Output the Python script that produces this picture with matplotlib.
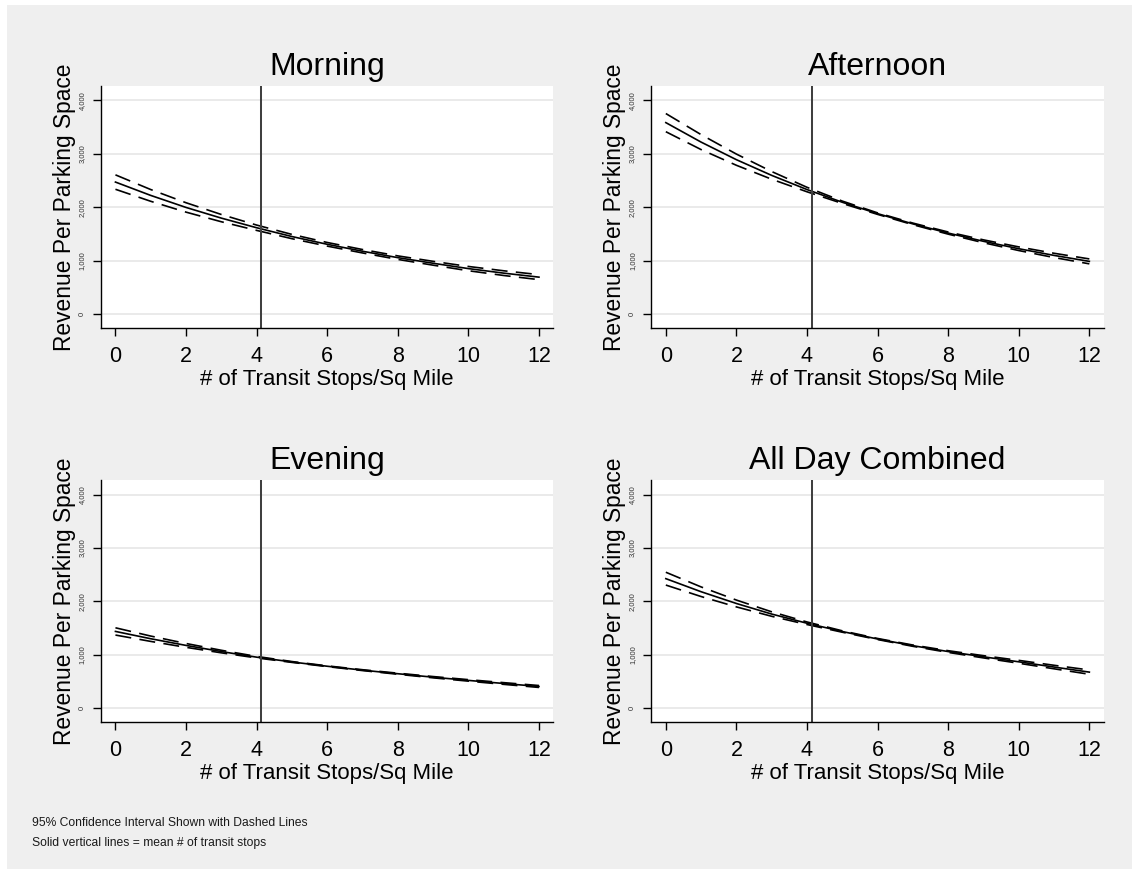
import matplotlib
matplotlib.use('Agg')
import matplotlib.pyplot as plt
from matplotlib.patches import Rectangle

plt.rcParams['font.family'] = ['Liberation Sans', 'DejaVu Sans']

# values, x = transit stops per sq mile
stops = [0, 1, 2, 3, 4, 5, 6, 7, 8, 9, 10, 11, 12]
mean_stops = 4.13

titles = ['Morning', 'Afternoon', 'Evening', 'All Day Combined']

morning_fit = [2470, 2220, 1995, 1795, 1615, 1450, 1305, 1175, 1055, 950, 850, 765, 690]
morning_hi = [2605, 2330, 2083, 1863, 1665, 1490, 1339, 1207, 1088, 986, 890, 809, 737]
morning_lo = [2335, 2110, 1907, 1727, 1565, 1410, 1271, 1143, 1022, 914, 810, 721, 643]

afternoon_fit = [3583, 3218, 2889, 2595, 2330, 2092, 1879, 1687, 1515, 1361, 1222, 1097, 985]
afternoon_hi = [3753, 3358, 2994, 2667, 2372, 2114, 1893, 1702, 1535, 1388, 1256, 1137, 1031]
afternoon_lo = [3413, 3078, 2784, 2523, 2288, 2070, 1865, 1672, 1495, 1334, 1188, 1057, 939]

evening_fit = [1437, 1300, 1175, 1060, 955, 865, 785, 712, 645, 580, 520, 462, 406]
evening_hi = [1505, 1350, 1211, 1084, 969, 873, 792, 720, 655, 592, 534, 478, 424]
evening_lo = [1369, 1250, 1139, 1036, 941, 857, 778, 704, 635, 568, 506, 446, 388]

allday_fit = [2425, 2180, 1960, 1762, 1590, 1435, 1295, 1170, 1060, 962, 868, 770, 675]
allday_hi = [2545, 2270, 2024, 1804, 1614, 1448, 1305, 1182, 1076, 983, 895, 803, 715]
allday_lo = [2305, 2090, 1896, 1720, 1566, 1422, 1285, 1158, 1044, 941, 841, 737, 635]

xtick_vals = [0, 2, 4, 6, 8, 10, 12]
ytick_vals = [0, 1000, 2000, 3000, 4000]
ytick_labels = ['0', '1,000', '2,000', '3,000', '4,000']

xlabel = '# of Transit Stops/Sq Mile'
ylabel = 'Revenue Per Parking Space'
notes = ['95% Confidence Interval Shown with Dashed Lines',
         'Solid vertical lines = mean # of transit stops']


def panel(ax, title, fit, hi, lo):
    ax.set_facecolor('white')
    ax.set_xlim(-0.41, 12.41)
    ax.set_ylim(-268, 4268)
    ax.set_yticks(ytick_vals, ytick_labels, fontsize=5.5, rotation=90,
                  va='center', color='#333333')
    ax.set_xticks(xtick_vals)
    ax.tick_params(axis='x', labelsize=15.5, length=6, width=1.0, pad=6.5)
    ax.tick_params(axis='y', length=6, width=1.0, pad=5)
    for y in ytick_vals:
        ax.axhline(y, color='#e6e6e6', lw=1.2, zorder=0)
    for s in ['top', 'right']:
        ax.spines[s].set_visible(False)
    for s in ['left', 'bottom']:
        ax.spines[s].set_linewidth(1.0)

    ax.plot(stops, hi, color='black', lw=1.2, dashes=(9.6, 5))
    ax.plot(stops, lo, color='black', lw=1.2, dashes=(9.6, 5))
    ax.plot(stops, fit, color='black', lw=1.2)
    ax.axvline(mean_stops, color='#404040', lw=1.45)

    ax.set_title(title, fontsize=23, pad=8)
    ax.set_xlabel(xlabel, fontsize=16, labelpad=1.5)
    ax.set_ylabel(ylabel, fontsize=16.4, labelpad=2)


def main():
    fig = plt.figure(figsize=(11.32, 8.69), dpi=100, facecolor='white')
    fig.patches.append(Rectangle((7 / 1132, 0), 1, 864 / 869,
                                 transform=fig.transFigure,
                                 facecolor='#efefef', edgecolor='none',
                                 zorder=-10))

    lefts = [0.0892, 0.5754, 0.0892, 0.5754]
    bottoms = [0.6222, 0.6222, 0.1686, 0.1686]
    series = [(morning_fit, morning_hi, morning_lo),
              (afternoon_fit, afternoon_hi, afternoon_lo),
              (evening_fit, evening_hi, evening_lo),
              (allday_fit, allday_hi, allday_lo)]

    for i in range(4):
        ax = fig.add_axes([lefts[i], bottoms[i], 0.3997, 0.2788])
        panel(ax, titles[i], *series[i])

    fig.text(32 / 1132, 1 - 822.7 / 869, notes[0], fontsize=8.7,
             va='center', color='#1a1a1a')
    fig.text(32 / 1132, 1 - 843.3 / 869, notes[1], fontsize=8.7,
             va='center', color='#1a1a1a')

    fig.savefig('out.png', dpi=100, facecolor=fig.get_facecolor())


if __name__ == '__main__':
    main()
